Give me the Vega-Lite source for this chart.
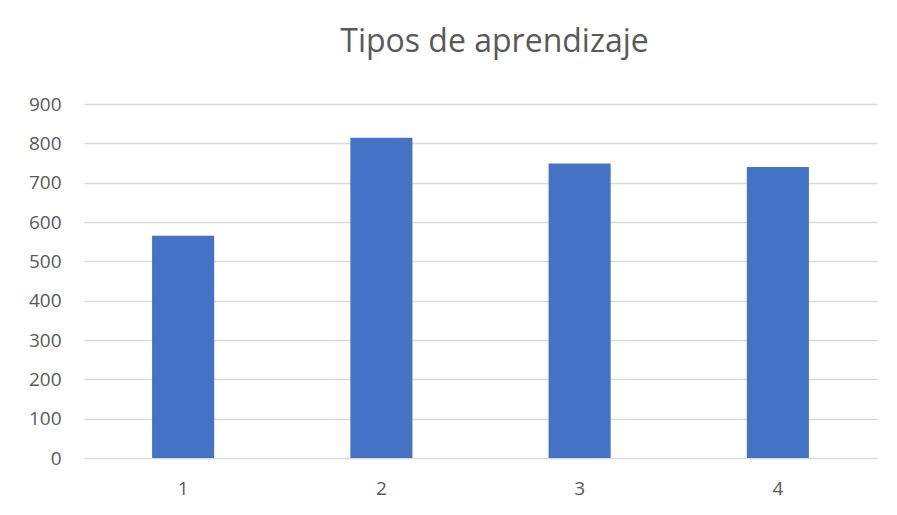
{
  "$schema": "https://vega.github.io/schema/vega-lite/v6.json",
  "autosize": "none",
  "width": 793,
  "height": 354,
  "padding": {"left": 84, "top": 104, "right": 20, "bottom": 57},
  "background": "white",
  "title": {"text": "Tipos de aprendizaje", "fontSize": 32, "font": "Open Sans", "fontWeight": "normal", "color": "#595959", "offset": 36, "anchor": "middle", "dx": 14},
  "data": {"values": [
    {"cat": "1", "value": 565},
    {"cat": "2", "value": 814},
    {"cat": "3", "value": 749},
    {"cat": "4", "value": 740}
  ]},
  "mark": {"type": "bar", "color": "#4472C4"},
  "encoding": {
    "x": {"field": "cat", "type": "ordinal", "title": null,
      "scale": {"paddingInner": 0.687, "paddingOuter": 0.3435},
      "axis": {"labelAngle": 0, "domain": false, "ticks": false, "labelPadding": 21, "labelFontSize": 19, "labelFont": "Open Sans", "labelColor": "#595959"}},
    "y": {"field": "value", "type": "quantitative", "title": null,
      "scale": {"domain": [0, 900]},
      "axis": {"values": [0,100,200,300,400,500,600,700,800,900], "domain": false, "ticks": false, "labelPadding": 23, "labelFontSize": 19, "labelFont": "Open Sans", "labelColor": "#595959", "gridColor": "#D9D9D9", "gridWidth": 1.3}}
  },
  "config": {"view": {"stroke": null}}
}
